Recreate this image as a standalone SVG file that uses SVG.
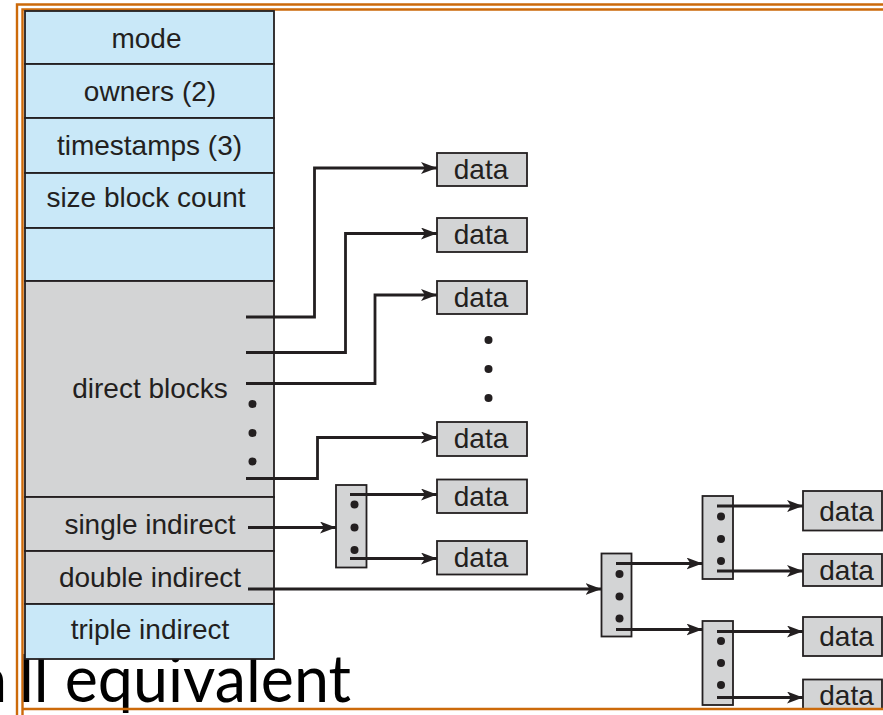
<svg xmlns="http://www.w3.org/2000/svg" width="883" height="715" viewBox="0 0 883 715">
  <style>
    .blue { fill: #c9e8f8; stroke: #231f20; stroke-width: 1.8; }
    .grey { fill: #d3d4d5; stroke: #231f20; stroke-width: 1.8; }
    .lbl { font-family: "Liberation Sans", Arial, sans-serif; font-size: 28px; fill: #231f20; text-anchor: middle; }
    .arrow { fill: none; stroke: #231f20; stroke-width: 2.8; marker-end: url(#head); }
    .dot { fill: #231f20; }
    .frame { fill: none; stroke: #cc6a0a; stroke-width: 2.4; }
  </style>
  <defs>
    <marker id="head" viewBox="0 0 16 12" markerWidth="16" markerHeight="12" refX="16" refY="6" orient="auto" markerUnits="userSpaceOnUse">
      <path d="M0,0 L16,6 L0,12 L4,6 z" fill="#231f20"/>
    </marker>
    <clipPath id="area">
      <rect x="0" y="0" width="883" height="708"/>
    </clipPath>
  </defs>

  <rect width="883" height="715" fill="#ffffff"/>

  <!-- slide frame -->
  <g id="frame">
    <path class="frame" d="M17,720 V4.5 H890"/>
    <path class="frame" d="M22.5,720 V9.5 H890"/>
  </g>

  <!-- caption text, partly behind the diagram -->
  <text id="caption" y="702" font-family="Lato, 'Open Sans', sans-serif" font-size="65" fill="#000000"><tspan x="-25">a</tspan><tspan x="19" textLength="332" lengthAdjust="spacingAndGlyphs">ll equivalent</tspan></text>

  <g clip-path="url(#area)">
    <!-- inode table -->
    <g id="inode">
      <rect class="blue" x="25" y="11" width="249" height="53"/>
      <text class="lbl" x="146.5" y="48">mode</text>
      <rect class="blue" x="25" y="64" width="249" height="54"/>
      <text class="lbl" x="150" y="101">owners (2)</text>
      <rect class="blue" x="25" y="118" width="249" height="55"/>
      <text class="lbl" x="149.5" y="155">timestamps (3)</text>
      <rect class="blue" x="25" y="173" width="249" height="55"/>
      <text class="lbl" x="146" y="207">size block count</text>
      <rect class="blue" x="25" y="228" width="249" height="53"/>
      <rect class="grey" x="25" y="281" width="249" height="216"/>
      <text class="lbl" x="150" y="398">direct blocks</text>
      <circle class="dot" cx="252.5" cy="404" r="4"/>
      <circle class="dot" cx="252.5" cy="433" r="4"/>
      <circle class="dot" cx="252.5" cy="461.5" r="4"/>
      <rect class="grey" x="25" y="497" width="249" height="54"/>
      <text class="lbl" x="150" y="534">single indirect</text>
      <rect class="grey" x="25" y="551" width="249" height="53"/>
      <text class="lbl" x="150" y="587">double indirect</text>
      <rect class="blue" x="25" y="604" width="249" height="55"/>
      <text class="lbl" x="150" y="639">triple indirect</text>
    </g>

    <!-- direct data blocks -->
    <g id="data1"><rect class="grey" x="437" y="153" width="90" height="33"/><text class="lbl" x="481" y="179">data</text></g>
    <g id="data2"><rect class="grey" x="437" y="218" width="90" height="34"/><text class="lbl" x="481" y="244">data</text></g>
    <g id="data3"><rect class="grey" x="437" y="281" width="90" height="33"/><text class="lbl" x="481" y="307">data</text></g>
    <g id="ellipsis">
      <circle class="dot" cx="488.5" cy="340" r="4"/>
      <circle class="dot" cx="488.5" cy="369" r="4"/>
      <circle class="dot" cx="488.5" cy="398" r="4"/>
    </g>
    <g id="data4"><rect class="grey" x="437" y="422" width="90" height="34"/><text class="lbl" x="481" y="448">data</text></g>

    <!-- single indirect -->
    <g id="index1">
      <rect class="grey" x="336" y="485" width="30.5" height="82.5"/>
      <circle class="dot" cx="354.5" cy="504.5" r="4"/>
      <circle class="dot" cx="354.5" cy="527.5" r="4"/>
      <circle class="dot" cx="354.5" cy="550" r="4"/>
    </g>
    <g id="data5"><rect class="grey" x="437" y="479.5" width="90" height="33.5"/><text class="lbl" x="481" y="505.5">data</text></g>
    <g id="data6"><rect class="grey" x="437" y="541" width="90" height="33.5"/><text class="lbl" x="481" y="567">data</text></g>

    <!-- double indirect -->
    <g id="index2">
      <rect class="grey" x="601.5" y="553.5" width="30" height="83"/>
      <circle class="dot" cx="619.5" cy="574" r="4"/>
      <circle class="dot" cx="619.5" cy="596.5" r="4"/>
      <circle class="dot" cx="619.5" cy="618.5" r="4"/>
    </g>
    <g id="index3">
      <rect class="grey" x="702.5" y="496" width="30.5" height="83"/>
      <circle class="dot" cx="721" cy="516.5" r="4"/>
      <circle class="dot" cx="721" cy="539" r="4"/>
      <circle class="dot" cx="721" cy="561" r="4"/>
    </g>
    <g id="index4">
      <rect class="grey" x="702.5" y="621" width="30.5" height="84"/>
      <circle class="dot" cx="721" cy="641" r="4"/>
      <circle class="dot" cx="721" cy="663" r="4"/>
      <circle class="dot" cx="721" cy="685" r="4"/>
    </g>
    <g id="data7"><rect class="grey" x="803" y="491" width="79" height="39.5"/><text class="lbl" x="846.5" y="521">data</text></g>
    <g id="data8"><rect class="grey" x="803" y="554" width="79" height="32"/><text class="lbl" x="846.5" y="580">data</text></g>
    <g id="data9"><rect class="grey" x="803" y="617" width="79" height="39"/><text class="lbl" x="846.5" y="646">data</text></g>
    <g id="data10"><rect class="grey" x="803" y="679.5" width="79" height="36"/><text class="lbl" x="846.5" y="705">data</text></g>

    <!-- connectors -->
    <g id="connectors">
      <path class="arrow" d="M246,317 H314.5 V168 H437"/>
      <path class="arrow" d="M246,352.5 H345.5 V233.5 H437"/>
      <path class="arrow" d="M246,383.5 H375 V295 H437"/>
      <path class="arrow" d="M246,478.5 H317.5 V437.5 H437"/>
      <path class="arrow" d="M248,527.5 H336"/>
      <path class="arrow" d="M350,494.5 H437"/>
      <path class="arrow" d="M350,558.5 H437"/>
      <path class="arrow" d="M248,589 H601.5"/>
      <path class="arrow" d="M616,563.5 H702.5"/>
      <path class="arrow" d="M616,629.5 H702.5"/>
      <path class="arrow" d="M717,506 H803"/>
      <path class="arrow" d="M717,571 H803"/>
      <path class="arrow" d="M717,631.5 H803"/>
      <path class="arrow" d="M717,697.5 H803"/>
    </g>
  </g>

  <!-- lower frame edge -->
  <path class="frame" d="M22.5,709 H890"/>
</svg>
